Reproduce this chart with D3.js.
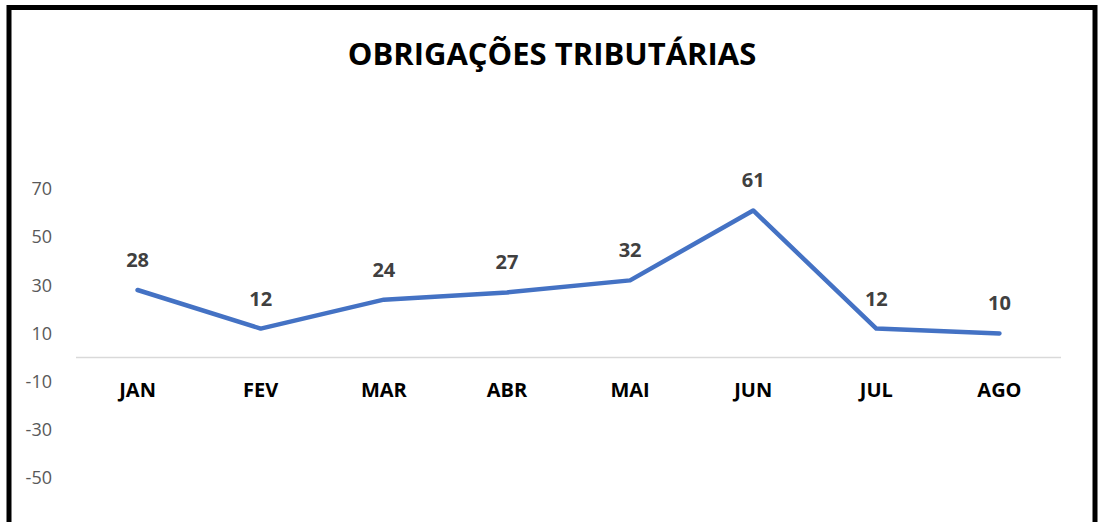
<!DOCTYPE html>
<html>
<head>
<meta charset="utf-8">
<script src="https://cdn.jsdelivr.net/npm/d3@7"></script>
<style>
  html, body { margin: 0; padding: 0; background: #fff; overflow: hidden; }
  svg { display: block; font-family: 'Open Sans', sans-serif; }
</style>
</head>
<body>
<svg id="chart" width="1099" height="522"></svg>
<script>
// chart data
const months = ['JAN', 'FEV', 'MAR', 'ABR', 'MAI', 'JUN', 'JUL', 'AGO'];
const values = [28, 12, 24, 27, 32, 61, 12, 10];
const yTicks = [70, 50, 30, 10, -10, -30, -50];
const title = 'OBRIGAÇÕES TRIBUTÁRIAS';

const svg = d3.select('#chart');

// outer frame (bottom edge falls outside the picture)
svg.append('rect')
  .attr('x', 9)
  .attr('y', 7.5)
  .attr('width', 1086)
  .attr('height', 560)
  .attr('fill', '#fff')
  .attr('stroke', '#000')
  .attr('stroke-width', 5);

const x = d3.scaleBand().domain(months).range([76, 1061]);
const y = d3.scaleLinear().domain([-70, 80]).range([526.2, 164.7]);

// title
svg.append('text')
  .attr('x', 552)
  .attr('y', 65)
  .attr('text-anchor', 'middle')
  .attr('font-size', 31)
  .attr('font-weight', 'bold')
  .attr('fill', '#000')
  .text(title);

// y labels (no axis line)
svg.append('g')
  .selectAll('text')
  .data(yTicks)
  .enter()
  .append('text')
  .attr('x', 52)
  .attr('y', (d) => y(d))
  .attr('dy', '0.36em')
  .attr('text-anchor', 'end')
  .attr('font-size', 18)
  .attr('fill', '#595959')
  .text((d) => d);

// zero line
svg.append('line')
  .attr('x1', x.range()[0])
  .attr('x2', x.range()[1])
  .attr('y1', y(0))
  .attr('y2', y(0))
  .attr('stroke', '#d9d9d9')
  .attr('stroke-width', 1.5);

// category labels
svg.append('g')
  .selectAll('text')
  .data(months)
  .enter()
  .append('text')
  .attr('x', (d) => x(d) + x.bandwidth() / 2)
  .attr('y', 397)
  .attr('text-anchor', 'middle')
  .attr('font-size', 20)
  .attr('font-weight', 'bold')
  .attr('fill', '#000')
  .text((d) => d);

// line
const line = d3.line()
  .x((d, i) => x(months[i]) + x.bandwidth() / 2)
  .y((d) => y(d));

svg.append('path')
  .datum(values)
  .attr('d', line)
  .attr('fill', 'none')
  .attr('stroke', '#4472c4')
  .attr('stroke-width', 4.5)
  .attr('stroke-linecap', 'round')
  .attr('stroke-linejoin', 'round');

// value labels
svg.append('g')
  .selectAll('text')
  .data(values)
  .enter()
  .append('text')
  .attr('x', (d, i) => x(months[i]) + x.bandwidth() / 2)
  .attr('y', (d) => y(d) - 23)
  .attr('text-anchor', 'middle')
  .attr('font-size', 20)
  .attr('font-weight', 'bold')
  .attr('fill', '#404040')
  .text((d) => d);
</script>
</body>
</html>
